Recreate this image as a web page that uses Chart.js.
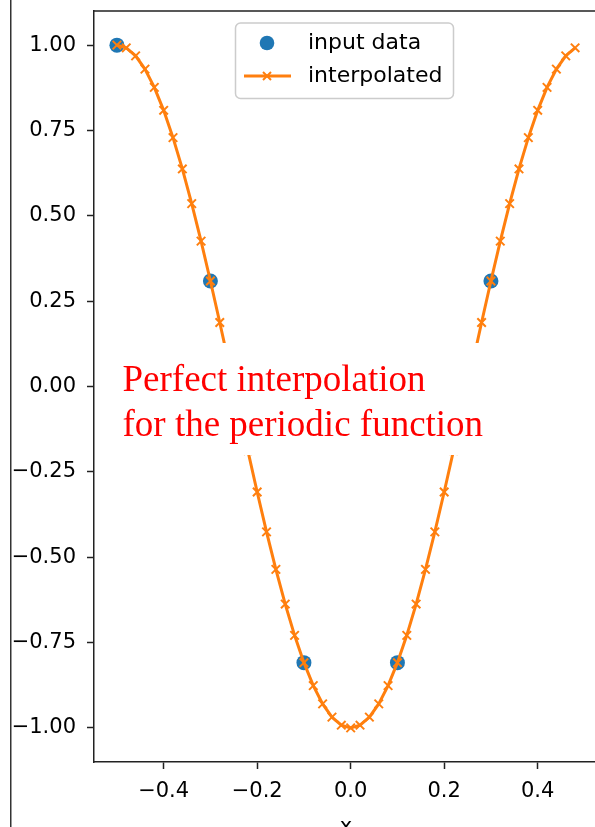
<!DOCTYPE html>
<html>
<head>
<meta charset="utf-8">
<script src="https://cdn.jsdelivr.net/npm/chart.js@4/dist/chart.umd.min.js"></script>
<style>
  html, body { margin: 0; padding: 0; background: #fff; overflow: hidden; }
  #wrap { position: relative; width: 595px; height: 827px; overflow: hidden; }
  canvas { position: absolute; left: 0; top: 0; }
</style>
</head>
<body>
<div id="wrap"><canvas id="interpChart" width="600" height="840"></canvas></div>
<script>
// input samples of the periodic function
const inputX = [-0.5, -0.3, -0.1, 0.1, 0.3];
const inputY = [1.0, 0.309, -0.809, -0.809, 0.309];

// interpolated curve
const interpX = [
  -0.50, -0.48, -0.46, -0.44, -0.42, -0.40, -0.38, -0.36, -0.34, -0.32,
  -0.30, -0.28, -0.26, -0.24, -0.22, -0.20, -0.18, -0.16, -0.14, -0.12,
  -0.10, -0.08, -0.06, -0.04, -0.02, 0.00, 0.02, 0.04, 0.06, 0.08,
  0.10, 0.12, 0.14, 0.16, 0.18, 0.20, 0.22, 0.24, 0.26, 0.28,
  0.30, 0.32, 0.34, 0.36, 0.38, 0.40, 0.42, 0.44, 0.46, 0.48
];
const interpY = [
  1.0000, 0.9921, 0.9686, 0.9298, 0.8763, 0.8090, 0.7290, 0.6374, 0.5358, 0.4258,
  0.3090, 0.1874, 0.0628, -0.0628, -0.1874, -0.3090, -0.4258, -0.5358, -0.6374, -0.7290,
  -0.8090, -0.8763, -0.9298, -0.9686, -0.9921, -1.0000, -0.9921, -0.9686, -0.9298, -0.8763,
  -0.8090, -0.7290, -0.6374, -0.5358, -0.4258, -0.3090, -0.1874, -0.0628, 0.0628, 0.1874,
  0.3090, 0.4258, 0.5358, 0.6374, 0.7290, 0.8090, 0.8763, 0.9298, 0.9686, 0.9921
];

const xTicks = [-0.4, -0.2, 0.0, 0.2, 0.4];
const yTicks = [1.0, 0.75, 0.5, 0.25, 0.0, -0.25, -0.5, -0.75, -1.0];

const legendLabels = ['input data', 'interpolated'];
const noteLines = ['Perfect interpolation', 'for the periodic function'];

const BLUE = '#1f77b4';
const ORANGE = '#ff7f0e';
const TICK_FONT = { family: 'DejaVu Sans', size: 21 };

const fmt = (v, d) => v.toFixed(d).replace('-', '\u2212');

// frame, note box and legend drawn on top of the plot
const decorations = {
  id: 'decorations',
  afterDatasetsDraw(chart) {
    const ctx = chart.ctx;
    const a = chart.chartArea;
    ctx.save();
    // top / right spine
    ctx.strokeStyle = '#222';
    ctx.lineWidth = 1.5;
    ctx.beginPath();
    ctx.moveTo(a.left, a.top);
    ctx.lineTo(a.right, a.top);
    ctx.lineTo(a.right, a.bottom);
    ctx.stroke();

    // white box with red note
    ctx.fillStyle = '#fff';
    ctx.fillRect(115, 343, 380, 112);
    ctx.fillStyle = '#ff0000';
    ctx.font = '37px "Liberation Serif", "Times New Roman", serif';
    ctx.textBaseline = 'alphabetic';
    ctx.textAlign = 'left';
    ctx.fillText(noteLines[0], 122.5, 391);
    ctx.fillText(noteLines[1], 122.5, 436);

    // legend
    ctx.beginPath();
    ctx.roundRect(235.5, 23, 218, 75.5, 5);
    ctx.fillStyle = 'rgba(255,255,255,0.8)';
    ctx.fill();
    ctx.strokeStyle = '#cccccc';
    ctx.lineWidth = 1.5;
    ctx.stroke();

    ctx.fillStyle = BLUE;
    ctx.beginPath();
    ctx.arc(267, 43, 7.3, 0, Math.PI * 2);
    ctx.fill();

    ctx.strokeStyle = ORANGE;
    ctx.lineWidth = 3;
    ctx.beginPath();
    ctx.moveTo(244, 76);
    ctx.lineTo(291, 76);
    ctx.stroke();
    ctx.lineWidth = 2;
    ctx.beginPath();
    ctx.moveTo(263, 72); ctx.lineTo(271, 80);
    ctx.moveTo(263, 80); ctx.lineTo(271, 72);
    ctx.stroke();

    ctx.fillStyle = '#000';
    ctx.font = '22px "DejaVu Sans"';
    ctx.textBaseline = 'middle';
    ctx.fillText(legendLabels[0], 308, 43);
    ctx.fillText(legendLabels[1], 308, 76);

    // edge of the neighbouring panel
    ctx.fillStyle = '#333';
    ctx.fillRect(10, 0, 1.5, 840);
    ctx.restore();
  }
};

const ctx = document.getElementById('interpChart').getContext('2d');

new Chart(ctx, {
  type: 'scatter',
  data: {
    datasets: [
      {
        label: legendLabels[1],
        data: interpX.map((x, i) => ({ x, y: interpY[i] })),
        showLine: true,
        borderColor: ORANGE,
        borderWidth: 3,
        pointStyle: 'crossRot',
        pointRadius: 6,
        pointBorderWidth: 2,
        pointBorderColor: ORANGE,
        pointBackgroundColor: ORANGE,
        order: 0
      },
      {
        label: legendLabels[0],
        data: inputX.map((x, i) => ({ x, y: inputY[i] })),
        backgroundColor: BLUE,
        borderColor: BLUE,
        borderWidth: 0,
        pointRadius: 7.5,
        order: 1
      }
    ]
  },
  options: {
    responsive: false,
    animation: false,
    devicePixelRatio: 1,
    layout: { autoPadding: false, padding: { top: 11, right: 2, left: 0, bottom: 0 } },
    plugins: {
      legend: { display: false },
      tooltip: { enabled: false }
    },
    scales: {
      x: {
        type: 'linear',
        min: -0.549,
        max: 0.529,
        afterFit: s => {
          s.height = 78;
          s.paddingLeft = 0;
          s.paddingRight = 0;
        },
        afterBuildTicks: s => { s.ticks = xTicks.map(v => ({ value: v })); },
        grid: { drawOnChartArea: false, drawTicks: true, tickLength: 7, tickWidth: 1.5, tickColor: '#222' },
        border: { display: true, color: '#222', width: 1.5 },
        ticks: {
          padding: 10,
          maxRotation: 0,
          color: '#000',
          font: TICK_FONT,
          callback: v => fmt(v, 1)
        },
        title: {
          display: true,
          text: 'x',
          color: '#000',
          font: TICK_FONT,
          padding: { top: 0, bottom: 0 }
        }
      },
      y: {
        type: 'linear',
        min: -1.1,
        max: 1.1,
        afterFit: s => {
          s.width = 94;
          s.paddingTop = 0;
          s.paddingBottom = 0;
        },
        afterBuildTicks: s => { s.ticks = yTicks.map(v => ({ value: v })); },
        grid: { drawOnChartArea: false, drawTicks: true, tickLength: 7, tickWidth: 1.5, tickColor: '#222' },
        border: { display: true, color: '#222', width: 1.5 },
        ticks: {
          padding: 11,
          color: '#000',
          font: TICK_FONT,
          callback: v => fmt(v, 2)
        }
      }
    }
  },
  plugins: [decorations]
});
</script>
</body>
</html>
